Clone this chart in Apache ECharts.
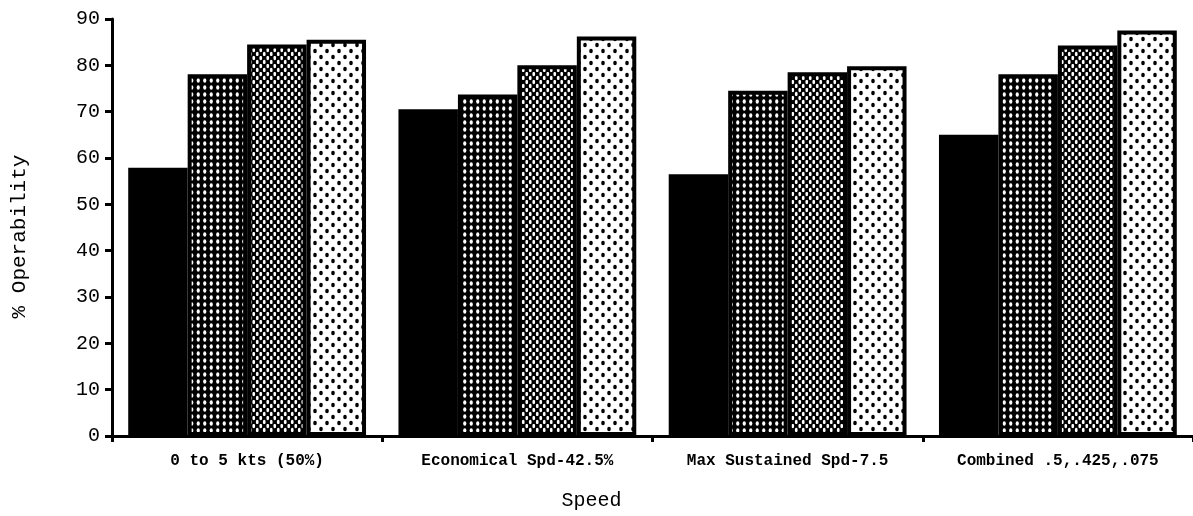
<!DOCTYPE html>
<html>
<head>
<meta charset="utf-8">
<script src="https://cdn.jsdelivr.net/npm/echarts@6/dist/echarts.min.js"></script>
<style>html,body{margin:0;padding:0;background:#fff}#c{width:1193px;height:516px}</style>
</head>
<body>
<div id="c"></div>
<script>
const categories = ["0 to 5 kts (50%)", "Economical Spd-42.5%", "Max Sustained Spd-7.5", "Combined .5,.425,.075"];
const yTicks = [0, 10, 20, 30, 40, 50, 60, 70, 80, 90];
const series1 = [57.9, 70.5, 56.5, 65.0];
const series2 = [78.1, 73.7, 74.5, 78.1];
const series3 = [84.5, 80.0, 78.5, 84.3];
const series4 = [85.5, 86.2, 79.8, 87.5];
const seriesNames = ["Series 1", "Series 2", "Series 3", "Series 4"];

function makePattern(w, h, bg, fg, dots, rx, ry) {
  const c = document.createElement('canvas');
  c.width = w; c.height = h;
  const g = c.getContext('2d');
  g.fillStyle = bg; g.fillRect(0, 0, w, h);
  g.fillStyle = fg;
  dots.forEach(function (d) {
    g.beginPath(); g.ellipse(d[0], d[1], rx, ry, 0, 0, Math.PI * 2); g.fill();
  });
  return c;
}
const patDark = makePattern(13, 7, '#000', '#fff', [[3.25, 3.5], [9.75, 3.5]], 1.6, 2.2);
const patMed = makePattern(7, 8, '#000', '#fff', [[1.75, 2], [5.25, 6]], 1.4, 2.2);
const patLight = makePattern(12, 12, '#fff', '#000', [[3, 3], [9, 9]], 1.8, 2.3);

const fills = ['#000', {image: patDark, repeat: 'repeat'}, {image: patMed, repeat: 'repeat'}, {image: patLight, repeat: 'repeat'}];
const data = [series1, series2, series3, series4];

const chart = echarts.init(document.getElementById('c'), null, {renderer: 'canvas'});
chart.setOption({
  animation: false,
  backgroundColor: '#fff',
  grid: {left: 112, right: -2, top: 19, bottom: 73, containLabel: false},
  xAxis: {
    type: 'category',
    data: categories,
    name: 'Speed',
    nameLocation: 'middle',
    nameGap: 55,
    nameTextStyle: {fontFamily: 'Liberation Mono', fontSize: 20, color: '#000', padding: [0, 122, 0, 0]},
    axisLine: {lineStyle: {color: '#000', width: 3}},
    axisTick: {show: true, length: 6, lineStyle: {color: '#000', width: 3}},
    axisLabel: {fontFamily: 'Liberation Mono', fontWeight: 'bold', fontSize: 16, color: '#000', margin: 17}
  },
  yAxis: {
    type: 'value',
    min: 0, max: 90, interval: 10,
    name: '% Operability',
    nameLocation: 'middle',
    nameRotate: 90,
    nameGap: 82,
    nameTextStyle: {fontFamily: 'Liberation Mono', fontSize: 21, color: '#000', padding: [0, 18, 0, 0]},
    splitLine: {show: false},
    axisLine: {show: true, lineStyle: {color: '#000', width: 3}},
    axisTick: {show: true, length: 7, lineStyle: {color: '#000', width: 3}},
    axisLabel: {fontFamily: 'Liberation Mono', fontSize: 20, color: '#000', margin: 12,
      formatter: function (v) { return yTicks.indexOf(v) >= 0 ? String(v) : ''; }}
  },
  series: data.map(function (d, i) {
    return {
      name: seriesNames[i],
      type: 'bar',
      data: d,
      barGap: '0%',
      barCategoryGap: '12%',
      itemStyle: {color: fills[i], borderColor: '#000', borderWidth: 4}
    };
  })
});
</script>
</body>
</html>
